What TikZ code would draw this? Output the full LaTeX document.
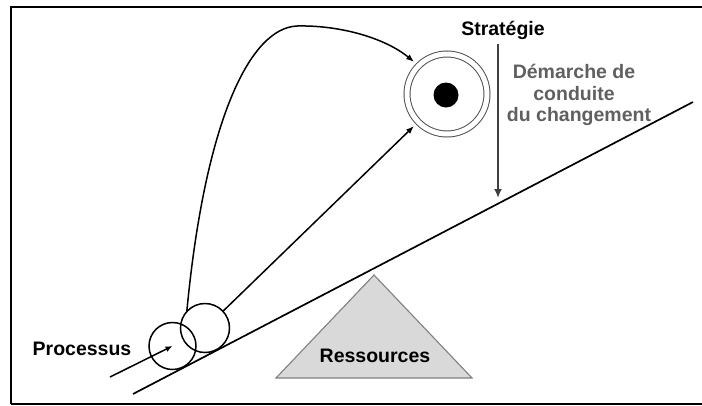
\documentclass[tikz,border=0pt]{standalone}
\usepackage{fontspec}
\setmainfont{Liberation Sans}
\usetikzlibrary{arrows.meta}
\definecolor{ringgray}{HTML}{505050}
\definecolor{textgray}{HTML}{606060}
\definecolor{arrowgray}{HTML}{404040}
\definecolor{rockfill}{HTML}{D9D9D9}
\definecolor{rockline}{HTML}{808080}
\begin{document}
\begin{tikzpicture}[x=1pt, y=-1pt,
  lbl/.style={font=\fontsize{19.5}{22}\selectfont\bfseries, inner sep=0pt, anchor=base},
  wheel/.style={circle, draw, line width=1.5pt, inner sep=0pt, outer sep=0pt},
  conn/.style={line width=1.5pt, -{Latex[length=8pt,width=6pt]}},
  ramp/.style={line width=1.7pt}
]
\useasboundingbox (0,0) rectangle (702,405);
% frame
\draw[line width=2.5pt] (11,404) -- (11,7) -- (712,7);
\draw[line width=2.5pt] (11,404) -- (712,404);

% the slope
\coordinate (rampL) at (133,394);
\coordinate (rampR) at (693,102);
\draw[ramp] (rampL) -- (rampR);

% the rock under the slope
\coordinate (rockTop) at (374,275);
\coordinate (rockL) at (276,378);
\coordinate (rockR) at (472,378);
\draw[fill=rockfill, draw=rockline, line width=1.1pt] (rockTop) -- (rockR) -- (rockL) -- cycle;
\node[lbl] (ress) at (375,362) {Ressources};

% target
\node[circle, minimum size=80pt, inner sep=0pt, outer sep=0pt, draw=ringgray,
      line width=1pt, double, double distance=5pt] (target) at (447,94) {};
\node[circle, fill=black, minimum size=25pt, inner sep=0pt] (dot) at (446,95) {};
\node[lbl] (strat) at (503,35) {Stratégie};

% process wheels
\node[wheel, minimum size=47pt] (procA) at (172.5,346) {};
\node[wheel, minimum size=49pt] (procB) at (205,328) {};
\node[lbl] (proc) at (82,355) {Processus};
\coordinate (procIn) at (110,377);
\draw[conn, -{Latex[length=7pt,width=6pt]}] (procIn) -- (procA.center);

% paths to the target
\draw[conn, shorten >=6pt] (procB.138) .. controls (205,120) and (250,28) .. (297,26)
      .. controls (340,25) and (385,38) .. (target.135);
\draw[conn, shorten >=6pt] (procB.43) -- (target);

% change management
\coordinate (dmTop) at (498,44);
\coordinate (dmBot) at (498,198);
\draw[arrowgray, line width=1.8pt, -{Latex[length=9pt,width=8pt]}] (dmTop) -- (dmBot);
\node[lbl, text=textgray] (dm1) at (574,78) {Démarche de};
\node[lbl, text=textgray] (dm2) at (574,100) {conduite};
\node[lbl, text=textgray] (dm3) at (579,121) {du changement};
\end{tikzpicture}
\end{document}
